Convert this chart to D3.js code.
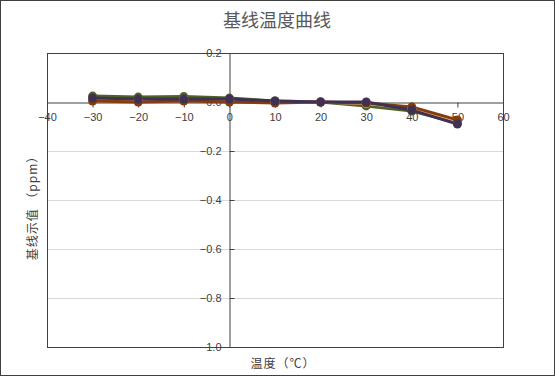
<!DOCTYPE html>
<html>
<head>
<meta charset="utf-8">
<script src="https://cdn.jsdelivr.net/npm/d3@7"></script>
<style>
  body { margin: 0; background: #fff; }
  svg text { font-family: "Noto Sans CJK SC", "Liberation Sans", sans-serif; }
</style>
</head>
<body>
<div id="chart"></div>
<script>
// 温度点
const temps = [-30, -20, -10, 0, 10, 20, 30, 40, 50];
// 各组基线示值 (ppm)
const greenVals  = [0.024, 0.020, 0.022, 0.016, 0.004, 0.000, -0.016, -0.037, -0.085];
const orangeVals = [0.012, 0.008, 0.010, 0.006, 0.000, 0.000, -0.006, -0.026, -0.078];
const redVals    = [0.004, 0.000, 0.004, 0.000, -0.004, 0.000, -0.004, -0.020, -0.073];
const purpleVals = [0.016, 0.012, 0.012, 0.012, 0.004, 0.000, 0.000, -0.033, -0.090];
const xTicks = [-40, -30, -20, -10, 0, 10, 20, 30, 40, 50, 60];
const yTicks = [0.2, 0.0, -0.2, -0.4, -0.6, -0.8, -1.0];

const series = [
    { name: "A", values: greenVals,  color: "#4f6228" },
    { name: "B", values: orangeVals, color: "#f4b183" },
    { name: "C", values: redVals,    color: "#843c0c" },
    { name: "D", values: purpleVals, color: "#403152" }
];

const width = 555, height = 376;
const plotL = 47, plotR = 503, plotT = 53, plotB = 347;

const svg = d3.select("#chart").append("svg")
    .attr("width", width)
    .attr("height", height);

// 外框
svg.append("rect")
    .attr("x", 0.5).attr("y", 0.5)
    .attr("width", width - 1).attr("height", height - 1)
    .attr("fill", "#fff")
    .attr("stroke", "#404040");

const x = d3.scaleLinear().domain([-40, 60]).range([plotL, plotR]);
const y = d3.scaleLinear().domain([-1.0, 0.2]).range([plotB, plotT]);

// 网格线
svg.append("g")
    .selectAll("line")
    .data(yTicks.filter(d => d < 0 && d > -1))
    .enter().append("line")
    .attr("x1", plotL).attr("x2", plotR)
    .attr("y1", d => Math.round(y(d)) + 0.5)
    .attr("y2", d => Math.round(y(d)) + 0.5)
    .attr("stroke", "#d9d9d9");

// 绘图区边框
svg.append("rect")
    .attr("x", plotL + 0.5).attr("y", plotT + 0.5)
    .attr("width", plotR - plotL).attr("height", plotB - plotT)
    .attr("fill", "none")
    .attr("stroke", "#404040");

// X 轴 (y = 0)
const xAxis = svg.append("g")
    .attr("transform", `translate(0,${Math.round(y(0)) + 0.5})`)
    .call(d3.axisBottom(x).tickValues(xTicks).tickSize(5).tickPadding(6)
        .tickFormat(d3.format("d")));
xAxis.select(".domain").attr("stroke", "#404040");
xAxis.selectAll(".tick line").attr("stroke", "#404040");
xAxis.selectAll("text")
    .attr("fill", "#404040")
    .style("font-family", "'Liberation Sans', sans-serif")
    .style("font-size", "11px");

// Y 轴 (x = 0)
const yAxis = svg.append("g")
    .attr("transform", `translate(${Math.round(x(0)) + 0.5},0)`)
    .call(d3.axisRight(y).tickValues(yTicks).tickSize(5)
        .tickFormat(d3.format(".1f")));
yAxis.select(".domain").attr("stroke", "#404040");
yAxis.selectAll(".tick line").attr("stroke", "#404040");
yAxis.selectAll("text")
    .attr("x", -8)
    .attr("text-anchor", "end")
    .attr("fill", "#404040")
    .style("font-family", "'Liberation Sans', sans-serif")
    .style("font-size", "11px");

// 折线
const line = d3.line()
    .x((d, i) => x(temps[i]))
    .y(d => y(d));

series.forEach(s => {
    svg.append("path")
        .datum(s.values)
        .attr("fill", "none")
        .attr("stroke", s.color)
        .attr("stroke-width", 3)
        .attr("stroke-linejoin", "round")
        .attr("d", line);
});

series.forEach(s => {
    svg.append("g")
        .selectAll("circle")
        .data(s.values)
        .enter().append("circle")
        .attr("cx", (d, i) => x(temps[i]))
        .attr("cy", d => y(d))
        .attr("r", 4.5)
        .attr("fill", s.color);
});

// 标题
svg.append("text")
    .attr("x", 277)
    .attr("y", 27)
    .attr("text-anchor", "middle")
    .attr("fill", "#595959")
    .style("font-size", "18px")
    .text("基线温度曲线");

// 坐标轴标题
svg.append("text")
    .attr("x", 283)
    .attr("y", 368)
    .attr("text-anchor", "middle")
    .attr("fill", "#404040")
    .style("font-size", "12px")
    .style("letter-spacing", "1px")
    .text("温度（℃）");

svg.append("text")
    .attr("transform", "translate(37,205) rotate(-90)")
    .attr("text-anchor", "middle")
    .attr("fill", "#404040")
    .style("font-size", "12px")
    .style("letter-spacing", "1px")
    .text("基线示值 （ppm）");
</script>
</body>
</html>
